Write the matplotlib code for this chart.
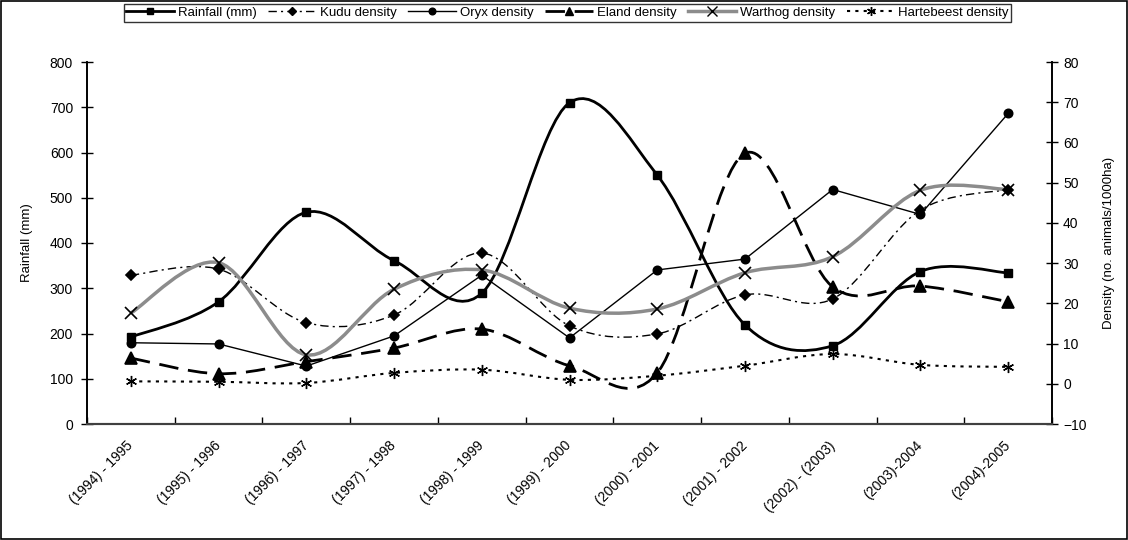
import matplotlib
matplotlib.use("Agg")
import matplotlib.pyplot as plt
from matplotlib.lines import Line2D
from matplotlib.path import Path
from matplotlib.patches import PathPatch, Rectangle
import numpy as np

plt.rcParams['font.family'] = ['Liberation Sans', 'DejaVu Sans']

seasons = ["(1994) - 1995", "(1995) - 1996", "(1996) - 1997", "(1997) - 1998",
           "(1998) - 1999", "(1999) - 2000", "(2000) - 2001", "(2001) - 2002",
           "(2002) - (2003)", "(2003)-2004", "(2004)-2005"]
rainfall = [192, 270, 468, 361, 289, 710, 550, 219, 173, 337, 334]
kudu = [27.0, 28.5, 15.2, 17.1, 32.5, 14.4, 12.4, 22.1, 21.1, 43.2, 48.3]
oryx = [10.2, 9.9, 4.4, 11.9, 27.0, 11.4, 28.3, 31.0, 48.3, 42.1, 67.2]
eland = [6.4, 2.5, 5.5, 8.9, 13.6, 4.5, 2.7, 57.3, 24.1, 24.3, 20.4]
warthog = [17.6, 30.1, 7.2, 23.5, 28.3, 18.8, 18.6, 27.6, 31.6, 48.1, 48.3]
hartebeest = [0.6, 0.5, 0.2, 2.7, 3.5, 1.0, 2.0, 4.5, 7.4, 4.7, 4.2]

x = np.arange(len(seasons)) + 0.5


def smooth_path(xs, ys):
    # Excel-like smoothed line: cubic bezier through the points
    p = np.column_stack([xs, ys]).astype(float)
    n = len(p)
    verts = [p[0]]
    codes = [Path.MOVETO]
    for i in range(n - 1):
        p0 = p[i - 1] if i > 0 else p[i]
        p3 = p[i + 2] if i + 2 < n else p[i + 1]
        c1 = p[i] + (p[i + 1] - p0) / 6.0
        c2 = p[i + 1] - (p3 - p[i]) / 6.0
        verts += [c1, c2, p[i + 1]]
        codes += [Path.CURVE4] * 3
    return Path(verts, codes)


fig = plt.figure(figsize=(11.28, 5.4), dpi=100)
ax = fig.add_axes([87 / 1128, 1 - 424 / 540, (1052 - 87) / 1128, (424 - 62) / 540])
ax2 = ax.twinx()

gray = '#8c8c8c'
styles = {
    'rain': dict(color='black', lw=2.0, ls='-', marker='s', ms=6),
    'kudu': dict(color='black', lw=1.0, ls=(0, (6, 3, 1.5, 3)), marker='D', ms=5),
    'oryx': dict(color='black', lw=1.0, ls='-', marker='o', ms=6),
    'eland': dict(color='black', lw=2.0, ls=(0, (7, 3.5)), marker='^', ms=8),
    'wart': dict(color=gray, lw=2.5, ls='-', marker='x', ms=9),
    'hart': dict(color='black', lw=1.5, ls=(0, (1.5, 2.5)), marker=(6, 2, 0), ms=8),
}

# rainfall on the left axis
s = styles['rain']
ax.add_patch(PathPatch(smooth_path(x, rainfall), fill=False, edgecolor=s['color'],
                       lw=s['lw'], ls=s['ls'], zorder=3))
ax.plot(x, rainfall, ls='none', marker=s['marker'], ms=s['ms'], color='black', zorder=4)

# densities on the right axis
for key, vals, smooth in [('kudu', kudu, True), ('oryx', oryx, False), ('eland', eland, True),
                          ('wart', warthog, True), ('hart', hartebeest, True)]:
    s = styles[key]
    if smooth:
        ax2.add_patch(PathPatch(smooth_path(x, vals), fill=False, edgecolor=s['color'],
                                lw=s['lw'], ls=s['ls'], zorder=3))
    else:
        ax2.plot(x, vals, color=s['color'], lw=s['lw'], ls=s['ls'], zorder=3)
    ax2.plot(x, vals, ls='none', marker=s['marker'], ms=s['ms'], color='black',
             mew=1.0 if key == 'hart' else 1.2, zorder=4)

ax.set_xlim(0, len(seasons))
ax.set_ylim(0, 800)
ax2.set_ylim(-10, 80)
ax.set_yticks(np.arange(0, 801, 100))
ax2.set_yticks(np.arange(-10, 81, 10))
ax.set_xticks(np.arange(0, len(seasons) + 1))
ax.set_xticklabels([])
ax.set_xticks(x, minor=True)
ax.set_xticklabels(seasons, minor=True, rotation=45, ha='right', va='center',
                   rotation_mode='anchor', fontsize=10)
ax.tick_params(axis='x', which='minor', length=0, pad=14)
ax.tick_params(axis='x', which='major', direction='in', length=5, width=1)
ax.tick_params(axis='y', direction='inout', length=8, width=1, labelsize=10, pad=6)
ax2.tick_params(axis='y', direction='inout', length=8, width=1, labelsize=10, pad=4)

for a in (ax, ax2):
    a.spines['top'].set_visible(False)
    a.spines['left'].set_linewidth(1.2)
    a.spines['right'].set_linewidth(1.2)
    a.spines['bottom'].set_linewidth(1.5)
    a.spines['bottom'].set_color('#404040')

ax.set_ylabel('Rainfall (mm)', fontsize=9.5, labelpad=12)
ax2.set_ylabel('Density (no. animals/1000ha)', fontsize=9.5, labelpad=12)

labels = ['Rainfall (mm)', 'Kudu density', 'Oryx density', 'Eland density',
          'Warthog density', 'Hartebeest density']
handles = []
for key in ['rain', 'kudu', 'oryx', 'eland', 'wart', 'hart']:
    s = styles[key]
    handles.append(Line2D([], [], color=s['color'], lw=s['lw'], ls=s['ls'],
                          marker=s['marker'], ms=s['ms'] * 0.8, mfc='black', mec='black'))
leg = fig.legend(handles, labels, loc='upper center', ncol=6,
                 bbox_to_anchor=((123 + 1012) / 2 / 1128, 1 - 4 / 540),
                 fontsize=9.5, frameon=True, fancybox=False, edgecolor='black',
                 handlelength=3.6, columnspacing=0.9, handletextpad=0.3,
                 borderpad=0.2, borderaxespad=0)
leg.get_frame().set_linewidth(1.0)

fig.patches.append(Rectangle((0.001, 0.001), 0.998, 0.997, transform=fig.transFigure,
                             fill=False, edgecolor='black', lw=1.2))

fig.savefig('out.png', dpi=100)
